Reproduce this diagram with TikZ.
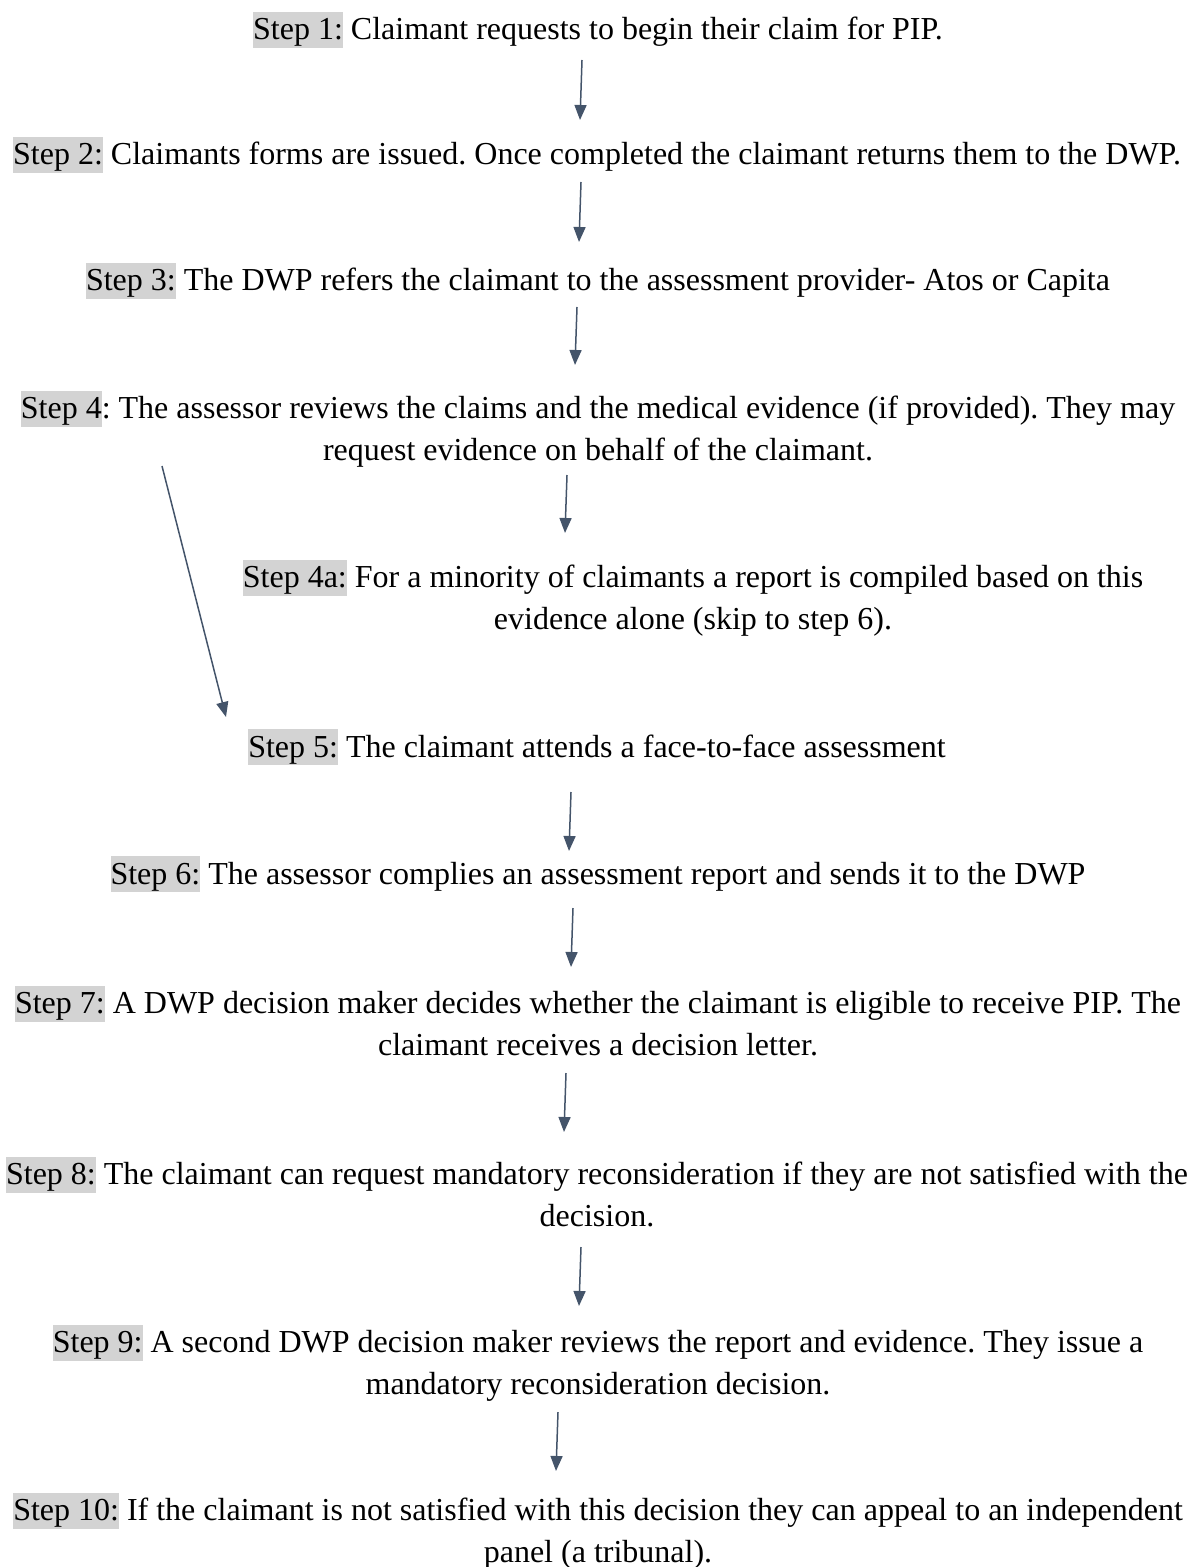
\documentclass[tikz,border=0pt]{standalone}
\usepackage{fontspec}
\setmainfont{Liberation Serif}
\usetikzlibrary{arrows.meta}
\definecolor{hl}{HTML}{D3D3D3}
\definecolor{arr}{HTML}{44546A}
\newcommand{\stp}[1]{{\setlength{\fboxsep}{0pt}\colorbox{hl}{\rule[-4pt]{0pt}{18pt}#1}}}
\frenchspacing
\tikzset{
  txt/.style={inner sep=0pt, align=center, font=\fontsize{16}{21}\selectfont, text=black},
  flow/.style={draw=arr, line width=0.75pt, -{Triangle[length=7.5pt,width=6pt]}}
}
\begin{document}
\begin{tikzpicture}[x=0.5pt,y=-0.5pt]
\useasboundingbox (0,0) rectangle (1192,1567);
\node[txt] (s1) at (598,30) {\stp{Step 1:} Claimant requests to begin their claim for PIP.};
\node[txt] (s2) at (597,155) {\stp{Step 2:} Claimants forms are issued. Once completed the claimant returns them to the DWP.};
\node[txt] (s3) at (598,281) {\stp{Step 3:} The DWP refers the claimant to the assessment provider- Atos or Capita};
\node[txt] (s4) at (598,429) {\stp{Step 4}: The assessor reviews the claims and the medical evidence (if provided). They may\\ request evidence on behalf of the claimant.};
\node[txt] (s4a) at (693,598) {\stp{Step 4a:} For a minority of claimants a report is compiled based on this\\ evidence alone (skip to step 6).};
\node[txt] (s5) at (597,747) {\stp{Step 5:} The claimant attends a face-to-face assessment};
\node[txt] (s6) at (598,874) {\stp{Step 6:} The assessor complies an assessment report and sends it to the DWP};
\node[txt] (s7) at (598,1021) {\stp{Step 7:} A DWP decision maker decides whether the claimant is eligible to receive PIP. The\\ claimant receives a decision letter.};
\node[txt] (s8) at (597,1192) {\stp{Step 8:} The claimant can request mandatory reconsideration if they are not satisfied with the\\ decision.};
\node[txt] (s9) at (598,1363) {\stp{Step 9:} A second DWP decision maker reviews the report and evidence. They issue a\\ mandatory reconsideration decision.};
\node[txt] (s10) at (598,1531) {\stp{Step 10:} If the claimant is not satisfied with this decision they can appeal to an independent\\ panel (a tribunal).};
\coordinate (a1s) at (582,60);  \coordinate (a1e) at (580,120);
\coordinate (a2s) at (581,182); \coordinate (a2e) at (579,242);
\coordinate (a3s) at (577,307); \coordinate (a3e) at (575,365);
\coordinate (a4s) at (567,475); \coordinate (a4e) at (565,533);
\coordinate (ds) at (162,466);  \coordinate (de) at (226,717);
\coordinate (a5s) at (571,792); \coordinate (a5e) at (569,851);
\coordinate (a6s) at (573,908); \coordinate (a6e) at (571,967);
\coordinate (a7s) at (566,1073); \coordinate (a7e) at (564,1132);
\coordinate (a8s) at (581,1247); \coordinate (a8e) at (579,1306);
\coordinate (a9s) at (558,1412); \coordinate (a9e) at (556,1471);
\draw[flow] (a1s) -- (a1e);
\draw[flow] (a2s) -- (a2e);
\draw[flow] (a3s) -- (a3e);
\draw[flow] (a4s) -- (a4e);
\draw[flow] (ds) -- (de);
\draw[flow] (a5s) -- (a5e);
\draw[flow] (a6s) -- (a6e);
\draw[flow] (a7s) -- (a7e);
\draw[flow] (a8s) -- (a8e);
\draw[flow] (a9s) -- (a9e);
\end{tikzpicture}
\end{document}
